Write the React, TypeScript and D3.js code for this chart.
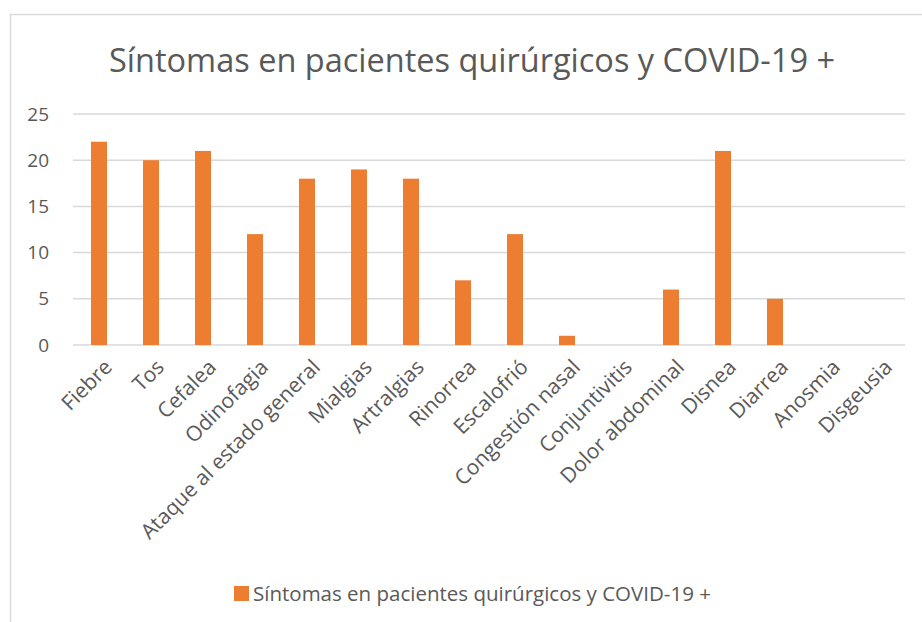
import React, { useEffect, useRef } from 'react'
import * as d3 from 'd3'

const categories = [
  'Fiebre', 'Tos', 'Cefalea', 'Odinofagia', 'Ataque al estado general', 'Mialgias',
  'Artralgias', 'Rinorrea', 'Escalofrió', 'Congestión nasal', 'Conjuntivitis',
  'Dolor abdominal', 'Disnea', 'Diarrea', 'Anosmia', 'Disgeusia',
]
const values = [22, 20, 21, 12, 18, 19, 18, 7, 12, 1, 0, 6, 21, 5, 0, 0]
const yTicks = [0, 5, 10, 15, 20, 25]
const seriesName = 'Síntomas en pacientes quirúrgicos y COVID-19 +'

const FONT = '"Open Sans", "Segoe UI", sans-serif'
const TEXT = '#595959'
const GRID = '#d9d9d9'
const BAR = '#ed7d31'

const App = () => {
  const ref = useRef<SVGSVGElement | null>(null)

  useEffect(() => {
    const svg = d3.select(ref.current)
    svg.selectAll('*').remove()

    // chart frame (only top and left edges show in the window)
    svg.append('rect')
      .attr('x', 10.5).attr('y', 14.5)
      .attr('width', 1000).attr('height', 1000)
      .attr('fill', '#fff')
      .attr('stroke', GRID).attr('stroke-width', 1.5)

    const x = d3.scaleBand().domain(categories).range([73, 905])
    const y = d3.scaleLinear().domain([0, 25]).range([345, 114])

    svg.append('text')
      .attr('x', 472).attr('y', 72)
      .attr('text-anchor', 'middle')
      .attr('font-family', FONT).attr('font-size', 32.5)
      .attr('fill', TEXT)
      .text(seriesName)

    const g = svg.append('g')

    g.selectAll('line.grid')
      .data(yTicks)
      .join('line')
      .attr('class', 'grid')
      .attr('x1', 73).attr('x2', 905)
      .attr('y1', d => y(d)).attr('y2', d => y(d))
      .attr('stroke', GRID).attr('stroke-width', 1.5)

    g.selectAll('text.ytick')
      .data(yTicks)
      .join('text')
      .attr('class', 'ytick')
      .attr('x', 49).attr('y', d => y(d))
      .attr('dy', '0.35em')
      .attr('text-anchor', 'end')
      .attr('font-family', FONT).attr('font-size', 19)
      .attr('fill', TEXT)
      .text(d => d)

    g.selectAll('rect.bar')
      .data(values)
      .join('rect')
      .attr('class', 'bar')
      .attr('x', (d, i) => x(categories[i])! + x.bandwidth() / 2 - 8)
      .attr('width', 16)
      .attr('y', d => y(d))
      .attr('height', d => y(0) - y(d))
      .attr('fill', BAR)

    g.selectAll('text.xtick')
      .data(categories)
      .join('text')
      .attr('class', 'xtick')
      .attr('transform', d => `translate(${x(d)! + x.bandwidth() / 2 + 4},${y(0) + 13}) rotate(-45)`)
      .attr('text-anchor', 'end')
      .attr('dy', '0.7em')
      .attr('font-family', FONT).attr('font-size', 21)
      .attr('fill', TEXT)
      .text(d => d)

    const lg = svg.append('g')
    lg.append('rect')
      .attr('x', 234).attr('y', 586)
      .attr('width', 15).attr('height', 15)
      .attr('fill', BAR)
    lg.append('text')
      .attr('x', 253).attr('y', 593.5)
      .attr('dy', '0.35em')
      .attr('font-family', FONT).attr('font-size', 20.5)
      .attr('fill', TEXT)
      .text(seriesName)
  }, [])

  return (
    <div style={{ position: 'absolute', left: 0, top: 0 }}>
      <svg ref={ref} width={922} height={622} style={{ display: 'block' }} />
    </div>
  )
}

export default App
